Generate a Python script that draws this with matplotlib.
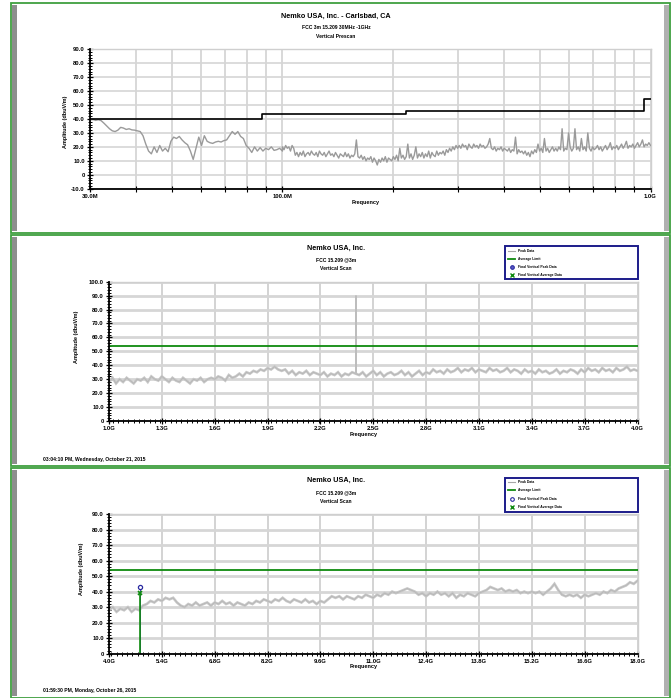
import numpy as np
import matplotlib
matplotlib.use("Agg")
import matplotlib.pyplot as plt
from matplotlib.patches import Rectangle
from matplotlib.lines import Line2D
from matplotlib.ticker import FixedLocator, MultipleLocator, FuncFormatter, NullFormatter

plt.rcParams['font.family'] = ['Liberation Sans', 'DejaVu Sans']
plt.rcParams['font.weight'] = 'bold'

# ---------------- data ----------------
# Panel 1: 30 MHz - 1 GHz vertical prescan (dBuV/m)
prescan_low = [39.5, 39.8, 39, 39.5, 38.8, 37, 35, 33, 31.5, 31,
               32, 34, 33.5, 32.5, 33, 32.2, 32, 31.5, 31, 28,
               22, 17, 15, 20, 16, 21, 17, 19, 16.5, 24,
               27, 26, 27.5, 25, 23, 21.5, 17, 11, 19, 27,
               21, 28, 24, 23, 22.5, 23.5, 24, 23.5, 24.5, 25,
               28, 31, 29, 31, 27.5, 26, 21, 19, 16, 20,
               17, 19.5, 17, 19, 18, 20, 17.5, 18, 19, 17]
prescan_high = [20, 18, 21, 19, 20, 17, 21, 19, 14, 16,
                13, 16, 14, 17, 13, 15, 16, 14, 17, 15,
                14, 16, 13, 17, 15, 14, 16, 13, 15, 17,
                14, 15, 13, 16, 14, 12, 15, 14, 13, 16,
                13, 15, 12, 14, 13, 15, 25, 13, 12, 14,
                11, 13, 10, 12, 11, 13, 9, 12, 10, 7,
                11, 9, 12, 10, 13, 9, 12, 11, 10, 13,
                11, 14, 10, 19, 12, 14, 11, 13, 22, 12,
                15, 11, 14, 20, 12, 15, 13, 16, 12, 15,
                13, 17, 12, 16, 14, 13, 17, 14, 16, 15,
                17, 14, 18, 16, 19, 17, 20, 18, 21, 19,
                21, 19, 22, 20, 21, 18, 22, 20, 19, 22,
                20, 21, 19, 22, 20, 21, 19, 20, 22, 26,
                19, 18, 20, 17, 19, 18, 20, 17, 19, 18,
                17, 19, 16, 18, 17, 27, 15, 18, 16, 17,
                15, 17, 14, 16, 13, 17, 15, 18, 16, 22,
                17, 19, 16, 26, 17, 19, 16, 18, 20, 17,
                19, 17, 20, 18, 33, 17, 19, 18, 30, 20,
                17, 19, 33, 18, 20, 17, 26, 18, 20, 17,
                30, 19, 17, 20, 18, 19, 21, 18, 20, 17,
                19, 21, 18, 20, 23, 18, 20, 19, 21, 18,
                20, 22, 19, 21, 24, 19, 21, 20, 22, 19,
                21, 23, 20, 22, 25, 20, 22, 21, 23, 21]
limit_edges_mhz = [30, 88, 216, 960, 1000]
limit_levels = [40, 43.5, 46, 54]

# Panel 2: 1 - 4 GHz vertical scan (sweep at 20 MHz steps)
scan2_peak = [28, 31, 27, 30, 28, 31, 29, 27, 30, 29,
              31, 28, 32, 30, 29, 32, 30, 28, 31, 29,
              28, 31, 29, 27, 30, 29, 31, 28, 30, 31,
              30, 32, 31, 29, 33, 31, 32, 34, 32, 35,
              34, 36, 35, 37, 36, 38, 37, 39, 37, 36,
              37, 34, 36, 33, 35, 34, 36, 33, 35, 34,
              33, 35, 32, 34, 33, 35, 32, 34, 33, 35,
              34, 33, 35, 32, 34, 36, 33, 35, 32, 34,
              35, 33, 34, 36, 33, 35, 32, 34, 36, 33,
              35, 34, 37, 35, 36, 34, 37, 35, 36, 38,
              35, 37, 36, 38, 35, 37, 36, 35, 38, 36,
              37, 35, 36, 38, 35, 37, 36, 34, 37, 35,
              36, 34, 37, 35, 36, 34, 35, 37, 34, 36,
              35, 37, 36, 34, 37, 35, 38, 36, 37, 35,
              38, 36, 37, 35, 38, 36, 37, 39, 36, 37,
              36]
# narrow carrier near 2.4 GHz
scan2_spike_ghz = [2.401, 2.402, 2.403]
scan2_spike_dbuv = [34, 90, 34]

# Panel 3: 4 - 18 GHz vertical scan (sweep at 100 MHz steps)
scan3_peak = [28, 30, 27, 29, 28, 30, 27, 29, 28, 31,
              32, 34, 33, 35, 34, 36, 35, 36, 33, 31,
              30, 32, 31, 33, 31, 32, 33, 31, 33, 32,
              34, 32, 33, 31, 33, 32, 31, 33, 32, 34,
              33, 35, 34, 33, 35, 34, 36, 34, 33, 35,
              34, 33, 35, 33, 34, 32, 34, 33, 35, 37,
              36, 37, 35, 37, 36, 35, 37, 36, 38, 37,
              36, 38, 37, 39, 38, 40, 39, 40, 41, 42,
              41, 40, 38, 39, 37, 39, 38, 40, 38, 39,
              37, 39, 36, 38, 37, 39, 38, 37, 39, 40,
              41, 43, 42, 41, 42, 40, 41, 40, 41, 39,
              40, 39, 40, 39, 40, 38, 40, 42, 45, 41,
              38, 37, 38, 37, 38, 36, 38, 37, 38, 39,
              38, 40, 39, 41, 40, 42, 43, 44, 46, 45,
              47]
average_limit = 54.0
final_freq_ghz = [4.824]
final_peak = [42.9]
final_avg = [38.8]

p1_xticks = [30, 100, 1000]
p1_xlabels = ['30.0M', '100.0M', '1.0G']
p2_xticks = [1.0, 1.3, 1.6, 1.9, 2.2, 2.5, 2.8, 3.1, 3.4, 3.7, 4.0]
p3_xticks = [4.0, 5.4, 6.8, 8.2, 9.6, 11.0, 12.4, 13.8, 15.2, 16.6, 18.0]

# ---------------- layout helpers (pixel coordinates, y from top) ----------------
W, H = 671, 698
fig = plt.figure(figsize=(W / 100, H / 100), dpi=100)
fig.patch.set_facecolor('white')


def fx(x):
    return x / W


def fy(y):
    return 1 - y / H


def add_axes_px(left, top, right, bottom):
    return fig.add_axes([fx(left), fy(bottom), (right - left) / W, (bottom - top) / H])


def ftext(x, y, s, size, ha='center', va='center', **kw):
    fig.text(fx(x), fy(y), s, fontsize=size, ha=ha, va=va, fontweight='bold', **kw)


GREEN_BORDER = '#3f9f3f'
SIDE_GRAY = '#8e8e8e'


def panel_frame(top, bottom):
    fig.patches.append(Rectangle((fx(11), fy(bottom)), (670 - 11) / W, (bottom - top) / H,
                                 transform=fig.transFigure, facecolor='white',
                                 edgecolor=GREEN_BORDER, lw=1.3, zorder=-3))
    fig.patches.append(Rectangle((fx(12.3), fy(bottom - 2)), 4.4 / W, (bottom - top - 4) / H,
                                 transform=fig.transFigure, facecolor=SIDE_GRAY,
                                 edgecolor='none', zorder=-2))
    fig.patches.append(Rectangle((fx(664.2), fy(bottom - 2)), 5.0 / W, (bottom - top - 4) / H,
                                 transform=fig.transFigure, facecolor='#b0b0b0',
                                 edgecolor='none', zorder=-2))


def ytick_fmt(v, pos):
    return '0' if abs(v) < 1e-9 else f'{v:.1f}'


def style_axes(ax, hgrid_lw=1.2):
    ax.set_facecolor('white')
    ax.set_axisbelow(True)
    for s in ('left', 'bottom'):
        ax.spines[s].set_color('black')
        ax.spines[s].set_linewidth(1.3)
        ax.spines[s].set_zorder(6)
    for s in ('top', 'right'):
        ax.spines[s].set_color('#cfcfcf')
        ax.spines[s].set_linewidth(1.0)
    ax.tick_params(which='major', direction='inout', length=5, width=0.9,
                   labelsize=4.2, pad=1.2, color='black')
    ax.tick_params(which='minor', direction='inout', length=2.6, width=0.7, color='black')
    ax.tick_params(axis='y', which='both', right=False)
    ax.tick_params(axis='x', which='both', top=False)
    ax.yaxis.set_major_formatter(FuncFormatter(ytick_fmt))
    ax.yaxis.set_minor_locator(MultipleLocator(2))
    ax.grid(True, axis='y', which='major', color='#d6d6d6', lw=hgrid_lw)


def bold_ticklabels(ax):
    for lab in ax.get_xticklabels() + ax.get_yticklabels():
        lab.set_fontweight('bold')


# ---------------- panel 1 ----------------
panel_frame(3, 233.5)
ax1 = add_axes_px(90, 49.3, 650.5, 188.7)
f_low = np.geomspace(30, 100, len(prescan_low))
f_high = np.geomspace(100, 1000, len(prescan_high))
freq1 = np.concatenate([f_low, f_high])
amp1 = np.concatenate([prescan_low, prescan_high])
ax1.set_xscale('log')
ax1.set_xlim(30, 1000)
ax1.set_ylim(-10, 90)
ax1.yaxis.set_major_locator(MultipleLocator(10))
style_axes(ax1)
ax1.xaxis.set_major_locator(FixedLocator(p1_xticks))
ax1.xaxis.set_major_formatter(FuncFormatter(
    lambda v, p: p1_xlabels[p1_xticks.index(int(round(v)))] if int(round(v)) in p1_xticks else ''))
ax1.xaxis.set_minor_locator(FixedLocator([40, 50, 60, 70, 80, 90,
                                          200, 300, 400, 500, 600, 700, 800, 900]))
ax1.xaxis.set_minor_formatter(NullFormatter())
ax1.tick_params(axis='x', which='minor', length=4, width=0.8)
ax1.grid(True, axis='x', which='both', color='#d2d2d2', lw=1.2)
ax1.plot(freq1, amp1, color='#9a9a9a', lw=1.0, zorder=3)
ax1.step(limit_edges_mhz, limit_levels + [limit_levels[-1]], where='post',
         color='black', lw=1.2, zorder=4)
bold_ticklabels(ax1)

ftext(336, 16, 'Nemko USA, Inc. - Carlsbad, CA', 5.2)
ftext(336, 27.3, 'FCC 3m 15.209 30MHz -1GHz', 3.6)
ftext(336, 37, 'Vertical Prescan', 3.6)
ftext(366, 202.7, 'Frequency', 4.0)
ftext(65, 122, 'Amplitude (dbuV/m)', 4.0, rotation=90)


# ---------------- legend drawn inside panels 2 and 3 ----------------
def draw_legend(x0, y0, x1, y1, rows, open_circle):
    fig.patches.append(Rectangle((fx(x0), fy(y1)), (x1 - x0) / W, (y1 - y0) / H,
                                 transform=fig.transFigure, facecolor='white',
                                 edgecolor='#1c1c8a', lw=1.4, zorder=5))
    labels = ['Peak Data', 'Average Limit', 'Final Vertical Peak Data',
              'Final Vertical Average Data']
    for i, (lab, yy) in enumerate(zip(labels, rows)):
        if i == 0:
            fig.lines.append(Line2D([fx(508), fx(515)], [fy(yy), fy(yy)], transform=fig.transFigure,
                                    color='#a8a8a8', lw=0.8, zorder=6))
        elif i == 1:
            fig.lines.append(Line2D([fx(508), fx(515)], [fy(yy), fy(yy)], transform=fig.transFigure,
                                    color='#108a10', lw=1.3, zorder=6))
        elif i == 2:
            fig.lines.append(Line2D([fx(511.5)], [fy(yy)], transform=fig.transFigure,
                                    marker='o', ms=2.6,
                                    mfc='white' if open_circle else '#5a5ac8',
                                    mec='#2a2aa0', mew=0.8, ls='none', zorder=6))
        else:
            fig.lines.append(Line2D([fx(511.5)], [fy(yy)], transform=fig.transFigure,
                                    marker='x', ms=3.0, mec='#108a10', mew=1.0,
                                    ls='none', zorder=6))
        fig.text(fx(518), fy(yy), lab, fontsize=2.4, ha='left', va='center',
                 fontweight='bold', zorder=6)


def scan_panel(top, bottom, ax_top, ax_bottom, freq, amp, ymax, xticks, minor_step,
               date_text, title_ys, legend_box, legend_rows, open_circle, ylabel_y,
               freq_y, date_y, markers=False, spike=None):
    panel_frame(top, bottom)
    ax = add_axes_px(109, ax_top, 637.5, ax_bottom)
    ax.set_xlim(xticks[0], xticks[-1])
    ax.set_ylim(0, ymax)
    ax.yaxis.set_major_locator(MultipleLocator(10))
    style_axes(ax, hgrid_lw=2.0)
    ax.xaxis.set_major_locator(FixedLocator(xticks))
    ax.xaxis.set_major_formatter(FuncFormatter(lambda v, p: f'{v:.1f}G'))
    ax.xaxis.set_minor_locator(MultipleLocator(minor_step))
    ax.grid(True, axis='x', which='major', color='#cccccc', lw=1.2)
    ax.plot(freq, amp, color='#c8c8c8', lw=1.9, zorder=3, solid_joinstyle='miter')
    ax.plot(freq, amp, color='#b4b4b4', lw=0.5, zorder=3)
    if spike is not None:
        ax.plot(spike[0], spike[1], color='#bdbdbd', lw=0.8, zorder=3)
    ax.axhline(average_limit, color='#0e8a0e', lw=1.3, zorder=4)
    if markers:
        ax.vlines(final_freq_ghz, 0, final_peak, color='#2a2aa0', lw=0.6, zorder=5)
        ax.vlines(final_freq_ghz, 0, final_avg, color='#0e8a0e', lw=1.2, zorder=5)
        ax.plot(final_freq_ghz, final_peak, ls='none', marker='o', ms=3.0,
                mfc='white', mec='#2a2aa0', mew=0.9, zorder=6, clip_on=False)
        ax.plot(final_freq_ghz, final_avg, ls='none', marker='x', ms=3.5,
                mec='#0e8a0e', mew=1.2, zorder=6)
    bold_ticklabels(ax)
    ftext(336, title_ys[0], 'Nemko USA, Inc.', 5.2)
    ftext(336, title_ys[1], 'FCC 15.209 @3m', 3.6)
    ftext(336, title_ys[2], 'Vertical Scan', 3.6)
    ftext(364, freq_y, 'Frequency', 4.0)
    ftext(ylabel_y[0], ylabel_y[1], 'Amplitude (dbuV/m)', 4.0, rotation=90)
    ftext(43, date_y, date_text, 3.6, ha='left')
    draw_legend(*legend_box, legend_rows, open_circle)
    return ax


freq2 = np.linspace(1.0, 4.0, len(scan2_peak))
scan_panel(235, 465.5, 281.7, 421, freq2, scan2_peak, 100, p2_xticks, 0.03,
           '03:04:10 PM, Wednesday, October 21, 2015', (248.3, 259.3, 269),
           (505.4, 245.7, 637.6, 279.3), (250.7, 259, 266.7, 274.7), False,
           (76.7, 336.7), 434.7, 459.3, spike=(scan2_spike_ghz, scan2_spike_dbuv))

freq3 = np.linspace(4.0, 18.0, len(scan3_peak))
scan_panel(468, 697.5, 514, 653.7, freq3, scan3_peak, 90, p3_xticks, 0.14,
           '01:59:30 PM, Monday, October 26, 2015', (480.7, 492.3, 501.3),
           (505.4, 478.3, 637.6, 511.7), (482.3, 490.3, 498.7, 507.3), True,
           (81.7, 569), 666.7, 690.5, markers=True)

fig.savefig('out.png', dpi=100, facecolor='white')
